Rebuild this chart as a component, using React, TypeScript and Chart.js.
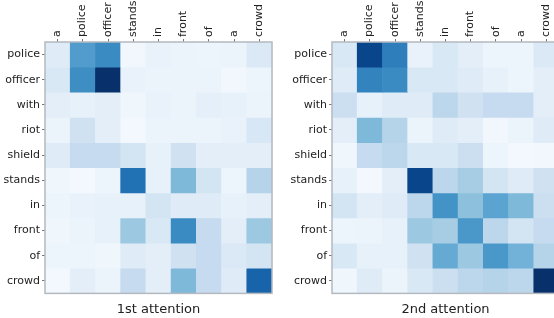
import React, { useEffect, useRef } from "react";
import { Chart, registerables } from "chart.js";
Chart.register(...registerables);

const columns = ["a", "police", "officer", "stands", "in", "front", "of", "a", "crowd"];
const rows = ["police", "officer", "with", "riot", "shield", "stands", "in", "front", "of", "crowd"];

const firstAttention = [
  [0.12, 0.58, 0.65, 0.03, 0.07, 0.06, 0.05, 0.06, 0.14],
  [0.15, 0.64, 1.0, 0.07, 0.06, 0.06, 0.06, 0.03, 0.05],
  [0.1, 0.08, 0.1, 0.04, 0.07, 0.06, 0.09, 0.08, 0.06],
  [0.06, 0.2, 0.1, 0.02, 0.06, 0.06, 0.06, 0.07, 0.16],
  [0.12, 0.25, 0.25, 0.18, 0.08, 0.2, 0.1, 0.1, 0.1],
  [0.04, 0.02, 0.05, 0.75, 0.08, 0.45, 0.18, 0.05, 0.3],
  [0.05, 0.07, 0.08, 0.08, 0.18, 0.12, 0.12, 0.08, 0.1],
  [0.04, 0.06, 0.08, 0.38, 0.15, 0.65, 0.25, 0.1, 0.38],
  [0.05, 0.05, 0.04, 0.12, 0.1, 0.2, 0.25, 0.14, 0.18],
  [0.02, 0.1, 0.06, 0.25, 0.1, 0.45, 0.25, 0.12, 0.8],
];

const secondAttention = [
  [0.15, 0.92, 0.7, 0.07, 0.15, 0.1, 0.05, 0.05, 0.14],
  [0.12, 0.68, 0.65, 0.15, 0.15, 0.12, 0.08, 0.05, 0.1],
  [0.22, 0.08, 0.12, 0.12, 0.28, 0.2, 0.25, 0.25, 0.1],
  [0.1, 0.45, 0.3, 0.06, 0.12, 0.1, 0.03, 0.06, 0.12],
  [0.04, 0.25, 0.28, 0.15, 0.15, 0.22, 0.05, 0.02, 0.03],
  [0.08, 0.02, 0.1, 0.92, 0.28, 0.35, 0.18, 0.12, 0.2],
  [0.18, 0.1, 0.12, 0.28, 0.62, 0.42, 0.55, 0.45, 0.22],
  [0.05, 0.06, 0.08, 0.38, 0.35, 0.6, 0.28, 0.18, 0.25],
  [0.15, 0.08, 0.08, 0.2, 0.52, 0.38, 0.6, 0.48, 0.3],
  [0.04, 0.12, 0.06, 0.15, 0.22, 0.28, 0.3, 0.28, 1.0],
];

const BLUES = ["#f7fbff", "#deebf7", "#c6dbef", "#9ecae1", "#6baed6", "#4292c6", "#2171b5", "#08519c", "#08306b"];

function hexToRgb(h: string) {
  const n = parseInt(h.slice(1), 16);
  return [(n >> 16) & 255, (n >> 8) & 255, n & 255];
}

function blues(v: number) {
  const t = Math.max(0, Math.min(1, v)) * (BLUES.length - 1);
  const i = Math.min(Math.floor(t), BLUES.length - 2);
  const f = t - i;
  const a = hexToRgb(BLUES[i]);
  const b = hexToRgb(BLUES[i + 1]);
  const c = a.map((x, k) => Math.round(x + (b[k] - x) * f));
  return `rgb(${c[0]},${c[1]},${c[2]})`;
}

const framePlugin = {
  id: "frame",
  afterDatasetsDraw(chart: any) {
    const { ctx, chartArea: a } = chart;
    ctx.save();
    ctx.strokeStyle = "#b4b9c0";
    ctx.lineWidth = 1.5;
    ctx.strokeRect(a.left, a.top, a.right - a.left, a.bottom - a.top);
    ctx.restore();
  },
};

const FONT = "'DejaVu Sans', sans-serif";

function Heatmap({ matrix, title, left }: { matrix: number[][]; title: string; left: number }) {
  const ref = useRef<HTMLCanvasElement>(null);
  useEffect(() => {
    if (!ref.current) return;
    const datasets = rows.map((_, r) => ({
      label: rows[r],
      data: columns.map(() => [r - 0.5, r + 0.5]),
      backgroundColor: matrix[r].map((v) => blues(v)),
      borderWidth: 0,
      barPercentage: 1,
      categoryPercentage: 1,
      grouped: false,
    }));
    const chart = new Chart(ref.current, {
      type: "bar",
      data: { labels: columns.map((c) => c), datasets: datasets as any },
      options: {
        animation: false,
        responsive: false,
        layout: { padding: { right: 8, left: 0, top: 0, bottom: 0 } },
        plugins: {
          legend: { display: false },
          tooltip: { enabled: false },
          title: {
            display: true,
            text: title,
            position: "bottom",
            fullSize: false,
            color: "#222",
            font: { family: FONT, size: 13, weight: "normal" },
            padding: { top: 8, bottom: 1 },
          },
        },
        scales: {
          x: {
            type: "category",
            position: "top",
            offset: true,
            afterFit: (s: any) => {
              s.height = 42;
            },
            grid: {
              display: true,
              offset: false,
              drawOnChartArea: false,
              drawTicks: true,
              tickLength: 3,
              color: "#777",
            },
            border: { display: false },
            ticks: {
              maxRotation: 90,
              minRotation: 90,
              autoSkip: false,
              padding: 2,
              labelOffset: 13,
              color: "#222",
              font: { family: FONT, size: 11 },
            },
          },
          y: {
            type: "linear",
            reverse: true,
            min: -0.5,
            max: 9.5,
            afterFit: (s: any) => {
              s.width = 45;
            },
            afterBuildTicks: (s: any) => {
              s.ticks = rows.map((_, i) => ({ value: i }));
            },
            grid: {
              display: true,
              drawOnChartArea: false,
              drawTicks: true,
              tickLength: 3,
              color: "#777",
            },
            border: { display: false },
            ticks: {
              padding: 2,
              color: "#222",
              font: { family: FONT, size: 11 },
              callback: (v: any) => rows[v as number] ?? "",
            },
          },
        },
      },
      plugins: [framePlugin],
    });
    return () => chart.destroy();
  }, [matrix, title]);
  return (
    <canvas
      ref={ref}
      width={280}
      height={318}
      style={{ position: "absolute", left, top: 0, width: 280, height: 318 }}
    />
  );
}

export default function App() {
  return (
    <div
      style={{
        position: "fixed",
        left: 0,
        top: 0,
        width: 554,
        height: 318,
        overflow: "hidden",
        background: "#fff",
      }}
    >
      <Heatmap matrix={firstAttention} title="1st attention" left={0} />
      <Heatmap matrix={secondAttention} title="2nd attention" left={287} />
    </div>
  );
}
